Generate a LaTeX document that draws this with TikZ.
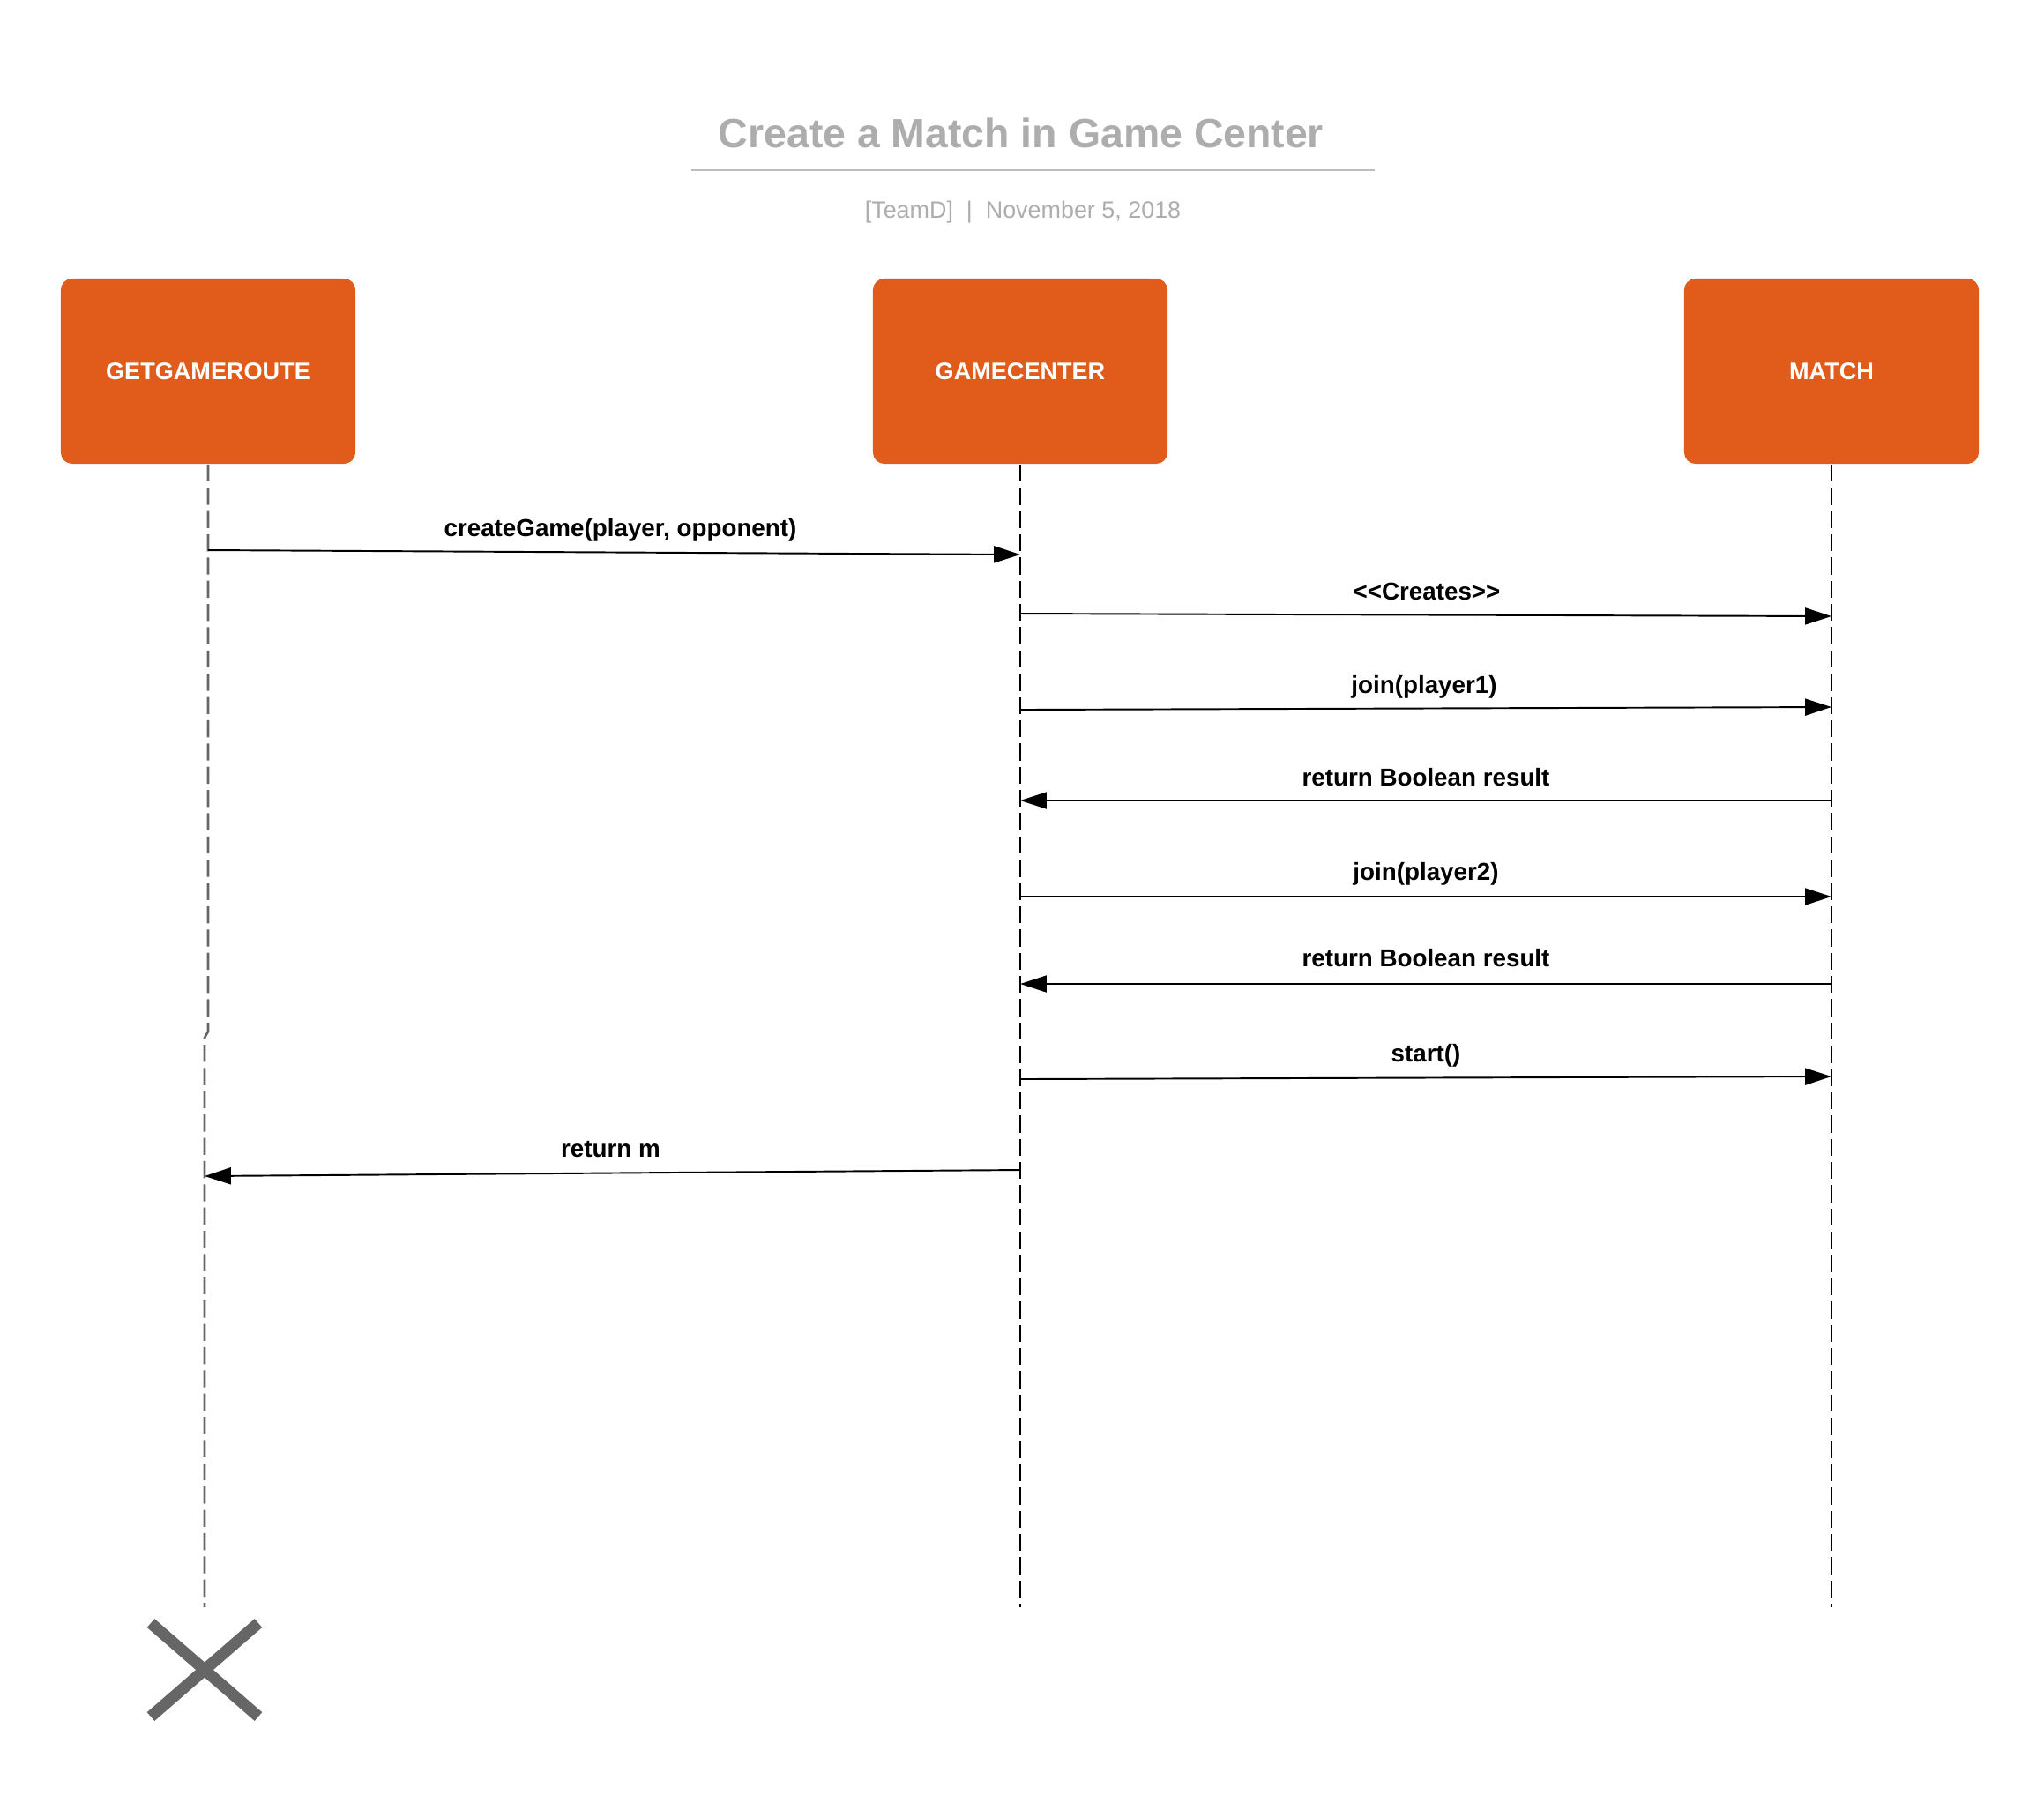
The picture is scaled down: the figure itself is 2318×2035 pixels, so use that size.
\documentclass[tikz,border=0pt]{standalone}
\usepackage{fontspec}
\setmainfont{Liberation Sans}
\usepackage{tikz}
\usetikzlibrary{arrows.meta, calc}
\definecolor{boxorange}{HTML}{E15C1A}
\definecolor{titlegray}{HTML}{ADADAD}
\definecolor{rulegray}{HTML}{BDBDBD}
\definecolor{deadgray}{HTML}{666666}

\begin{document}
\begin{tikzpicture}[x=0.01cm, y=-0.01cm,
  actor/.style={fill=boxorange, rounded corners=3.7pt, minimum width=3.34cm, minimum height=2.1cm,
    text=white, font=\fontsize{7.7}{9}\selectfont\bfseries},
  lifeline/.style={line width=0.75pt, dash pattern=on 5.5pt off 2pt},
  msg/.style={line width=0.55pt, -{Triangle[length=8.5pt, width=5.4pt]}},
  msglabel/.style={anchor=base, font=\fontsize{7.9}{9}\selectfont\bfseries}]
\useasboundingbox (0,0) rectangle (2318,2035);
\node[anchor=base, text=titlegray, font=\fontsize{13.2}{15}\selectfont\bfseries] (title) at (1158,167) {Create a Match in Game Center};
\draw[rulegray, line width=0.6pt] (784,193)--(1559,193);
\node[anchor=base, text=titlegray, font=\fontsize{7.65}{9}\selectfont] (sub) at (1160,247) {[TeamD]\ \ |\ \ November 5, 2018};
\node[actor] (gr) at (236,421) {GETGAMEROUTE};
\node[actor] (gc) at (1157,421) {GAMECENTER};
\node[actor] (ma) at (2077,421) {MATCH};
\coordinate (grend) at (232,1823);
\draw[lifeline, deadgray] (gr.south)--(236,1170)--(232,1177)--(grend);
\draw[lifeline] (gc.south)--(gc |- 0,1823);
\draw[lifeline] (ma.south)--(ma |- 0,1823);
\foreach \src/\dst/\ya/\yb/\yt/\dx/\txt in {gr/gc/624/629/608/7/{createGame(player, opponent)},
  gc/ma/696/699/680/1/{<{}<Creates>{}>}, gc/ma/805/802/786/-2/{join(player1)},
  ma/gc/908/908/891/0/{return Boolean result}, gc/ma/1017/1017/998/0/{join(player2)},
  ma/gc/1116/1116/1096/0/{return Boolean result}, gc/ma/1224/1221/1204/0/{start()},
  gc/grend/1327/1334/1312/-2/{return m}}
{
\draw[msg] (\src |- 0,\ya)--(\dst |- 0,\yb);
\node[msglabel] at ($(\src |- 0,\yt)!0.5!(\dst |- 0,\yt)+(\dx,0)$) {\txt};
}
\draw[deadgray, line width=3.7pt] (171,1841)--(293,1947) (171,1947)--(293,1841);
\end{tikzpicture}
\end{document}
